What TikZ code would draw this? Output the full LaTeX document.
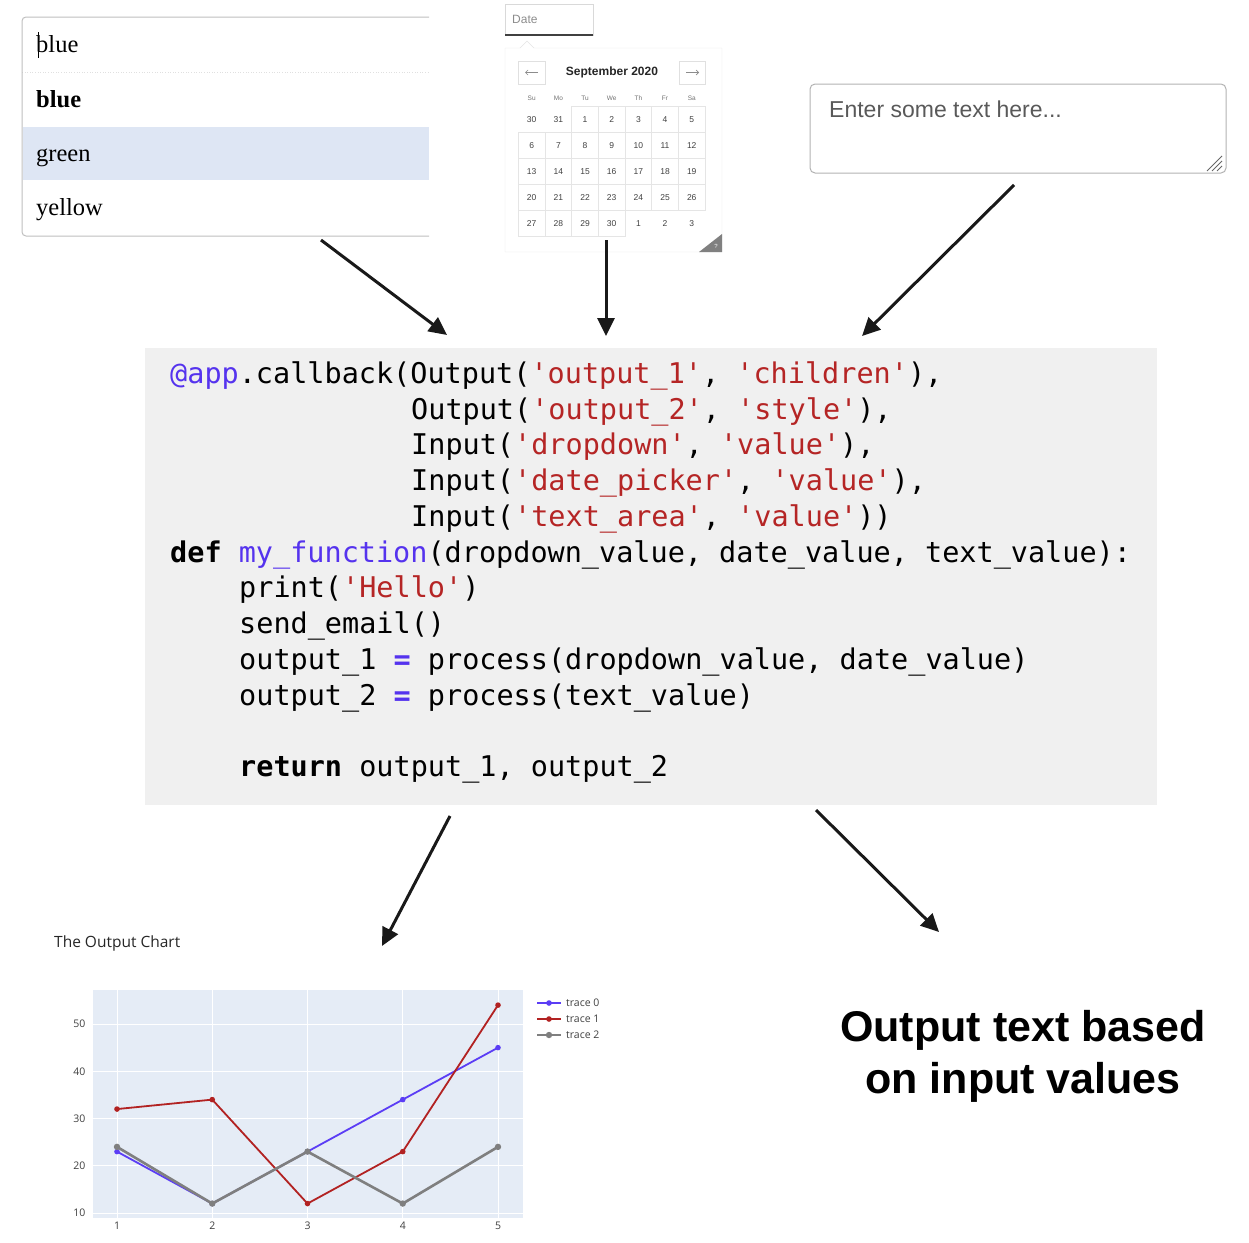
\documentclass[tikz,border=0pt]{standalone}
\usepackage{fontspec}
\setmainfont{Liberation Serif}
\setsansfont{Liberation Sans}
\setmonofont{DejaVu Sans Mono}
\newfontfamily\plotfont{Open Sans}
\usetikzlibrary{arrows.meta}
\definecolor{codebg}{HTML}{F0F0F0}
\definecolor{pyred}{HTML}{B52525}
\definecolor{pyblue}{HTML}{5533EE}
\definecolor{ddhl}{HTML}{DEE6F4}
\definecolor{plotbg}{HTML}{E5ECF6}
\definecolor{trA}{HTML}{5B3DF5}
\definecolor{trB}{HTML}{B22222}
\definecolor{trC}{HTML}{7F7F7F}
\newcommand\pystr[1]{\textcolor{pyred}{#1}}
\newcommand\pyblue[1]{\textcolor{pyblue}{#1}}
\begin{document}
\begin{tikzpicture}[x=1pt,y=-1pt,
  flowarrow/.style={line width=3pt, draw=black!90, -{Triangle[length=18pt,width=17pt]}},
  codeline/.style={anchor=base west, inner sep=0pt, font=\fontsize{28.5}{34}\selectfont\ttfamily},
  ddtext/.style={anchor=base west, inner sep=0pt, font=\fontsize{24.5}{29}\selectfont\rmfamily},
  calgrid/.style={draw=black!10, line width=0.6pt},
  daynum/.style={font=\fontsize{8.5}{10}\selectfont\sffamily, text=black!75, inner sep=0pt},
  dayhead/.style={font=\fontsize{6.5}{8}\selectfont\sffamily, text=black!55, inner sep=0pt},
  ticklab/.style={font=\fontsize{10.5}{12}\selectfont\plotfont, text=black!75, inner sep=0pt},
  legtext/.style={font=\fontsize{10.5}{12}\selectfont\plotfont, text=black!75, inner sep=0pt, anchor=west},
]
\useasboundingbox (0,0) rectangle (1249,1242);

% ---------------- Dropdown ----------------
\fill[ddhl] (22.5,127) rectangle (429,180);
\draw[black!12, line width=0.6pt, dotted] (22,72) -- (429,72);
\draw[black!25, line width=1pt, rounded corners=4pt] (429,17) -- (22,17) -- (22,236) -- (429,236);
\node[ddtext] (dd1) at (36,52) {blue};
\draw[black, line width=1.2pt] (38.5,32) -- (38.5,58);
\node[ddtext, font=\fontsize{24.5}{29}\selectfont\rmfamily\bfseries] (dd2) at (36,107) {blue};
\node[ddtext] (dd3) at (36,161) {green};
\node[ddtext] (dd4) at (36,215) {yellow};

% ---------------- Date picker ----------------
\draw[black!15] (505,4) rectangle (593,35);
\draw[black!75, line width=1.2pt] (505,35) -- (593,35);
\node[anchor=west, inner sep=0pt, font=\fontsize{12}{14}\selectfont\sffamily, text=black!45] (datetxt) at (512,19) {Date};
\draw[black!10, fill=white] (505,48) -- (520,48) -- (527,41) -- (534,48) -- (722,48) -- (722,252) -- (505,252) -- cycle;
\draw[black!12] (518,61) rectangle (545,84);
\draw[black!12] (679,61) rectangle (705,84);
\draw[black!45, line width=0.7pt, -{Straight Barb[length=2.5pt,width=5pt]}] (538,72.5) -- (525,72.5);
\draw[black!45, line width=0.7pt, -{Straight Barb[length=2.5pt,width=5pt]}] (686,72.5) -- (699,72.5);
\node[inner sep=0pt, font=\fontsize{12}{14}\selectfont\sffamily\bfseries, text=black!85] (month) at (612,72.5) {September 2020};
\foreach \h [count=\i] in {Su,Mo,Tu,We,Th,Fr,Sa}
  \node[dayhead] (head-\i) at ({531.7+26.67*(\i-1)},98) {\h};
\foreach \r in {1,...,5}{
  \foreach \c in {1,...,7}{
    \pgfmathtruncatemacro{\d}{(\r-1)*7+\c-2}
    \pgfmathsetmacro{\cx}{531.7+26.67*(\c-1)}
    \pgfmathsetmacro{\cy}{119.5+26*(\r-1)}
    \ifnum\d<1
      \pgfmathtruncatemacro{\dd}{\d+31}
    \else\ifnum\d>30
      \pgfmathtruncatemacro{\dd}{\d-30}
    \else
      \let\dd\d
      \draw[calgrid] (\cx-13.33,\cy-13) rectangle (\cx+13.33,\cy+13);
    \fi\fi
    \node[daynum] (day-\r-\c) at (\cx,\cy) {\dd};
  }
}
\fill[black!50] (699,252) -- (722,252) -- (722,234) -- cycle;
\node[inner sep=0pt, font=\fontsize{6}{7}\selectfont\sffamily, text=white] (qmark) at (716,246) {?};

% ---------------- Text area ----------------
\draw[black!30, line width=1pt, rounded corners=5pt] (810,84) rectangle (1226,173);
\node[anchor=base west, inner sep=0pt, font=\fontsize{23}{27}\selectfont\sffamily, text=black!65] (tatext) at (829,117) {Enter some text here...};
\draw[black!60, line width=0.8pt] (1207,171) -- (1222,156) (1212,171) -- (1222,161) (1217,171) -- (1222,166);

% ---------------- Code block ----------------
\fill[codebg] (145,348) rectangle (1157,805);
\node[codeline] (c1) at (170,383) {\pyblue{@app}.callback(Output(\pystr{'output\_1'}, \pystr{'children'}),};
\node[codeline] (c2) at (411,419) {Output(\pystr{'output\_2'}, \pystr{'style'}),};
\node[codeline] (c3) at (411,454.5) {Input(\pystr{'dropdown'}, \pystr{'value'}),};
\node[codeline] (c4) at (411,490) {Input(\pystr{'date\_picker'}, \pystr{'value'}),};
\node[codeline] (c5) at (411,526) {Input(\pystr{'text\_area'}, \pystr{'value'}))};
\node[codeline] (c6) at (170,562) {{\bfseries def} \pyblue{my\_function}(dropdown\_value, date\_value, text\_value):};
\node[codeline] (c7) at (239,597) {print(\pystr{'Hello'})};
\node[codeline] (c8) at (239,633) {send\_email()};
\node[codeline] (c9) at (239,669) {output\_1 \pyblue{\bfseries =} process(dropdown\_value, date\_value)};
\node[codeline] (c10) at (239,705) {output\_2 \pyblue{\bfseries =} process(text\_value)};
\node[codeline] (c11) at (239,776.5) {{\bfseries return} output\_1, output\_2};

% ---------------- Arrows ----------------
\coordinate (a1s) at (321,240); \coordinate (a1e) at (447,335);
\coordinate (a2s) at (606,240); \coordinate (a2e) at (606,336);
\coordinate (a3s) at (1014,185); \coordinate (a3e) at (862,336);
\coordinate (a4s) at (450,816); \coordinate (a4e) at (382,946);
\coordinate (a5s) at (816,810); \coordinate (a5e) at (939,932);
\draw[flowarrow] (a1s) -- (a1e);
\draw[flowarrow] (a2s) -- (a2e);
\draw[flowarrow] (a3s) -- (a3e);
\draw[flowarrow] (a4s) -- (a4e);
\draw[flowarrow] (a5s) -- (a5e);

% ---------------- Chart ----------------
\node[anchor=west, inner sep=0pt, font=\fontsize{15.5}{18}\selectfont\plotfont, text=black!85] (ctitle) at (54,943) {The Output Chart};
\begin{scope}[shift={(21.75pt,-1260.25pt)}, x=95.25pt, y=4.725pt]
  \fill[plotbg] (0.748,8.94) rectangle (5.263,57.2);
  \foreach \i in {1,...,5} \draw[white, line width=1pt] (\i,8.94) -- (\i,57.2);
  \foreach \v in {10,20,...,50} \draw[white, line width=1pt] (0.748,\v) -- (5.263,\v);
  \foreach \v in {10,20,...,50} \node[ticklab, anchor=east] (ylab-\v) at (0.67,\v) {\v};
  \foreach \i in {1,...,5} \node[ticklab] (xlab-\i) at (\i,7.25) {\i};
  \draw[trA, line width=1.8pt, line join=round] (1,23) -- (2,12) -- (3,23) -- (4,34) -- (5,45);
  \foreach \p in {(1,23),(2,12),(3,23),(4,34),(5,45)} \fill[trA] \p circle (2.8pt);
  \draw[trB, line width=1.8pt, line join=round] (1,32) -- (2,34) -- (3,12) -- (4,23) -- (5,54);
  \foreach \p in {(1,32),(2,34),(3,12),(4,23),(5,54)} \fill[trB] \p circle (2.8pt);
  \draw[trC, line width=2.6pt, line join=round] (1,24) -- (2,12) -- (3,23) -- (4,12) -- (5,24);
  \foreach \p in {(1,24),(2,12),(3,23),(4,12),(5,24)} \fill[trC] \p circle (3.2pt);
\end{scope}
\draw[trA, line width=1.8pt] (537,1003) -- (561,1003); \fill[trA] (549,1003) circle (2.8pt);
\draw[trB, line width=1.8pt] (537,1019) -- (561,1019); \fill[trB] (549,1019) circle (2.8pt);
\draw[trC, line width=2.6pt] (537,1035) -- (561,1035); \fill[trC] (549,1035) circle (3.2pt);
\node[legtext] (leg0) at (566,1003) {trace 0};
\node[legtext] (leg1) at (566,1019) {trace 1};
\node[legtext] (leg2) at (566,1035) {trace 2};

% ---------------- Output text ----------------
\node[align=center, inner sep=0pt, font=\fontsize{43}{52}\selectfont\sffamily\bfseries] (outtext) at (1023,1056) {Output text based\\on input values};
\end{tikzpicture}
\end{document}
